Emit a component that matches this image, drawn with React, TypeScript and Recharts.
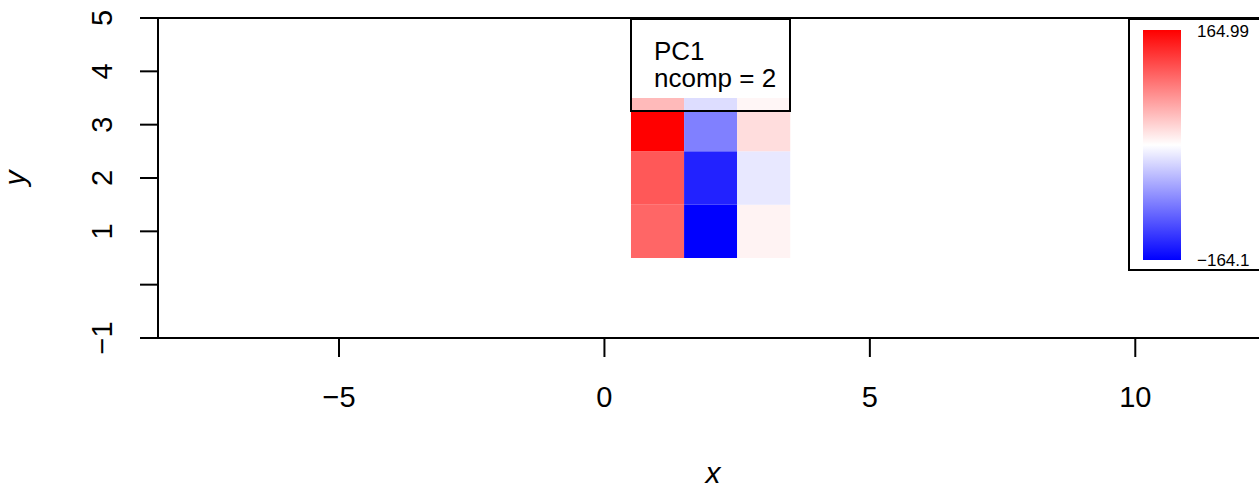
import { ScatterChart, XAxis, YAxis, ReferenceArea } from "recharts";

// heatmap grid (PC1 loadings, ncomp = 2)
const xCats = [1, 2, 3];
const yCats = [1, 2, 3];
// values[column][row], rows from y = 1 upward
const values = [
  [99, 108, 164.99],
  [-164.1, -142, -82],
  [8, -15, 22],
];
const xTicks = [-5, 0, 5, 10];
const yTicks = [-1, 0, 1, 2, 3, 4, 5];
const yTickLabels = ["\u22121", "", "1", "2", "3", "4", "5"];
const xTickLabels = ["\u22125", "0", "5", "10"];
const legendTitle = ["PC1", "ncomp = 2"];
const scaleMax = 164.99;
const scaleMin = -164.1;
const scaleLabels = ["164.99", "\u2212164.1"];

const FONT = "'Liberation Sans', Arial, Helvetica, sans-serif";

function cellColor(v: number) {
  if (v >= 0) {
    const c = Math.round(255 * (1 - v / scaleMax));
    return `rgb(255,${c},${c})`;
  }
  const c = Math.round(255 * (1 - v / scaleMin));
  return `rgb(${c},${c},255)`;
}

const cells = xCats.flatMap((x, i) =>
  yCats.map((y, j) => ({ x, y, value: values[i][j] }))
);

const XTick = (props: any) => {
  const { x, y, payload } = props;
  const idx = xTicks.indexOf(payload.value);
  return (
    <text x={x} y={y + 48} textAnchor="middle" fontSize={29} fontFamily={FONT} fill="#000">
      {xTickLabels[idx]}
    </text>
  );
};

const YTick = (props: any) => {
  const { x, y, payload } = props;
  const idx = yTicks.indexOf(payload.value);
  return (
    <text
      x={x - 26}
      y={y}
      transform={`rotate(-90 ${x - 26} ${y})`}
      textAnchor="middle"
      fontSize={29}
      fontFamily={FONT}
      fill="#000"
    >
      {yTickLabels[idx]}
    </text>
  );
};

export default function App() {
  return (
    <div
      style={{
        position: "absolute",
        left: 0,
        top: 0,
        width: 1259,
        height: 489,
        overflow: "hidden",
        background: "#fff",
      }}
    >
      <ScatterChart width={1280} height={489} margin={{ top: 18, right: 12, bottom: 0, left: 0 }}>
        <XAxis
          type="number"
          dataKey="x"
          domain={[-8.41, 12.5]}
          ticks={xTicks}
          allowDataOverflow
          height={151}
          tickSize={19}
          axisLine={{ stroke: "#000", strokeWidth: 2 }}
          tickLine={{ stroke: "#000", strokeWidth: 2 }}
          tick={<XTick />}
          label={{
            content: (p: any) => {
              const vb = p.viewBox;
              return (
                <text
                  x={vb.x + vb.width / 2}
                  y={vb.y + 145}
                  textAnchor="middle"
                  fontSize={30}
                  fontStyle="italic"
                  fontFamily={FONT}
                >
                  x
                </text>
              );
            },
          }}
        />
        <YAxis
          type="number"
          dataKey="y"
          domain={[-1, 5]}
          ticks={yTicks}
          allowDataOverflow
          width={158}
          tickSize={18}
          axisLine={{ stroke: "#000", strokeWidth: 2 }}
          tickLine={{ stroke: "#000", strokeWidth: 2 }}
          tick={<YTick />}
          label={{
            content: (p: any) => {
              const vb = p.viewBox;
              const cx = vb.x + 25;
              const cy = vb.y + vb.height / 2;
              return (
                <text
                  x={cx}
                  y={cy}
                  transform={`rotate(-90 ${cx} ${cy})`}
                  textAnchor="middle"
                  fontSize={30}
                  fontStyle="italic"
                  fontFamily={FONT}
                >
                  y
                </text>
              );
            },
          }}
        />
        {cells.map((c) => (
          <ReferenceArea
            key={`${c.x}-${c.y}`}
            x1={c.x - 0.5}
            x2={c.x + 0.5}
            y1={c.y - 0.5}
            y2={c.y + 0.5}
            fill={cellColor(c.value)}
            fillOpacity={1}
            stroke="none"
          />
        ))}
        <ReferenceArea
          x1={-8.41}
          x2={12.5}
          y1={-1}
          y2={5}
          fill="none"
          stroke="#000"
          strokeWidth={2}
        />
      </ScatterChart>
      <svg
        width={1259}
        height={489}
        style={{ position: "absolute", left: 0, top: 0, pointerEvents: "none" }}
      >
        <defs>
          <linearGradient id="ramp" x1="0" y1="0" x2="0" y2="1">
            <stop offset="0%" stopColor="#ff0000" />
            <stop offset="50%" stopColor="#ffffff" />
            <stop offset="100%" stopColor="#0000ff" />
          </linearGradient>
        </defs>
        <rect x={631} y={19} width={159} height={92} fill="#fff" fillOpacity={0.73} stroke="#000" strokeWidth={2} />
        {legendTitle.map((t, i) => (
          <text key={t} x={654} y={60 + i * 27} fontSize={26} fontFamily={FONT} fill="#000">
            {t}
          </text>
        ))}
        <rect x={1129} y={19} width={160} height={251} fill="#fff" stroke="#000" strokeWidth={2} />
        <rect x={1143} y={30} width={38} height={230} fill="url(#ramp)" />
        <text x={1197} y={37} fontSize={17} fontFamily={FONT} fill="#000">
          {scaleLabels[0]}
        </text>
        <text x={1197} y={266} fontSize={17} fontFamily={FONT} fill="#000">
          {scaleLabels[1]}
        </text>
      </svg>
    </div>
  );
}
